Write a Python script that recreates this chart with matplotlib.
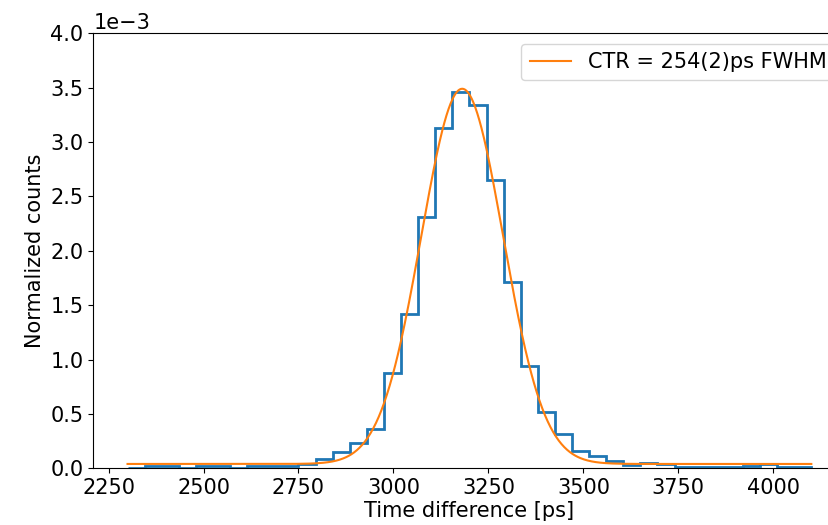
import numpy as np
import matplotlib
matplotlib.use("Agg")
import matplotlib.pyplot as plt

# histogram bin edges (ps) and normalized counts (x1e-3)
bin_start = 2300
bin_width = 45
counts = [
    0.005, 0.02, 0.02, 0.005, 0.02, 0.02, 0.005, 0.02, 0.02, 0.02,
    0.04, 0.09, 0.147, 0.23, 0.36, 0.874, 1.416, 2.31, 3.126, 3.463,
    3.34, 2.65, 1.716, 0.94, 0.52, 0.315, 0.159, 0.115, 0.07, 0.026,
    0.046, 0.035, 0.015, 0.015, 0.015, 0.015, 0.024, 0.04, 0.015, 0.015,
]

# gaussian fit parameters
fit_mu = 3181.0       # ps
fit_fwhm = 254.0      # ps
fit_amp = 3.45e-3
fit_offset = 0.04e-3
fit_label = "CTR = 254(2)ps FWHM"

edges = bin_start + bin_width * np.arange(len(counts) + 1)
values = np.array(counts) * 1e-3

sigma = fit_fwhm / (2 * np.sqrt(2 * np.log(2)))
x_fit = np.linspace(edges[0], edges[-1], 1000)
y_fit = fit_amp * np.exp(-0.5 * ((x_fit - fit_mu) / sigma) ** 2) + fit_offset

plt.rcParams["font.size"] = 15

fig = plt.figure(figsize=(8.29, 5.25), dpi=100)
# axes runs past the right edge (the reference is cropped)
ax = fig.add_axes([0.1126, 0.108, 0.9073, 0.8286])

ax.hist(edges[:-1], bins=edges, weights=values, histtype="step",
        color="tab:blue", linewidth=2)
ax.plot(x_fit, y_fit, color="tab:orange", linewidth=1.5, label=fit_label)

ax.set_xlim(2210, 4190)
ax.set_ylim(0, 0.004)
ax.ticklabel_format(axis="y", style="sci", scilimits=(0, 0))
ax.set_xlabel("Time difference [ps]", labelpad=2)
ax.set_ylabel("Normalized counts")
ax.legend(loc="upper right")

fig.savefig("out.png", dpi=100)
